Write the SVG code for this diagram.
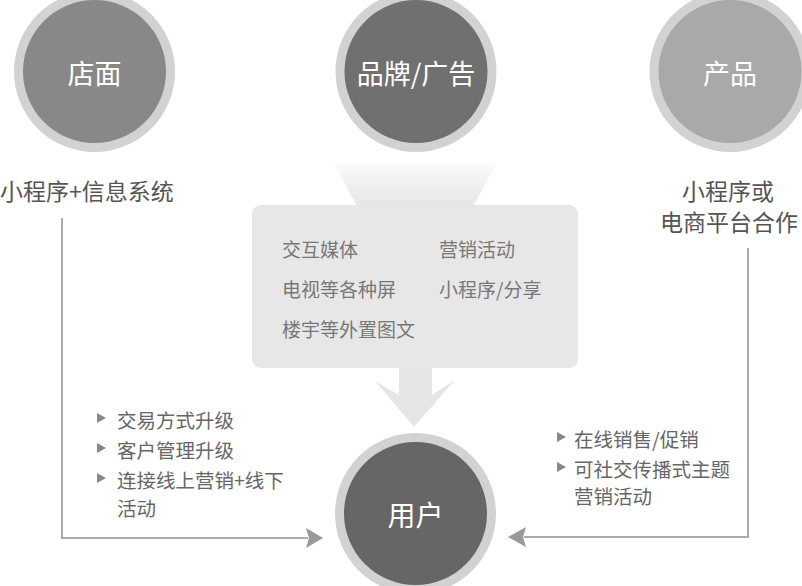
<svg xmlns="http://www.w3.org/2000/svg" width="802" height="586" viewBox="0 0 802 586">
<defs>
<style>
.ring{fill:#d2d2d2}
.ct{font-family:"Noto Sans CJK SC","Noto Sans",sans-serif;fill:#ffffff;font-size:27px;text-anchor:middle;dominant-baseline:central}
.lbl{font-family:"Noto Sans CJK SC","Noto Sans",sans-serif;fill:#555555;font-size:23px;text-anchor:middle;dominant-baseline:central}
.bx{font-family:"Noto Sans CJK SC","Noto Sans",sans-serif;fill:#777777;font-size:19px;dominant-baseline:central}
.bl{font-family:"Noto Sans CJK SC","Noto Sans",sans-serif;fill:#666666;font-size:19.5px;dominant-baseline:central}
.tri{fill:#888888}
.conn{fill:none;stroke:#aaaaaa;stroke-width:2}
.head{fill:#999999}
</style>
<linearGradient id="fun" x1="0" y1="0" x2="0" y2="1">
<stop offset="0" stop-color="#fbfbfb"/>
<stop offset="1" stop-color="#e6e6e6"/>
</linearGradient>
</defs>
<rect width="802" height="586" fill="#ffffff"/>

<g id="funnel">
<polygon points="334,163 497,163 473,206 357,206" fill="url(#fun)"/>
<rect x="252" y="205" width="326" height="163" rx="9" fill="#e7e7e7"/>
<polygon points="399,367 432,367 432,395 455,380 414,427 375,381 399,395" fill="#e6e6e6"/>
<text class="bx" x="282" y="248">交互媒体</text>
<text class="bx" x="439" y="248">营销活动</text>
<text class="bx" x="282" y="288">电视等各种屏</text>
<text class="bx" x="439" y="288">小程序/分享</text>
<text class="bx" x="282" y="328">楼宇等外置图文</text>
</g>

<g id="node-dianmian">
<circle class="ring" cx="94.5" cy="71.5" r="80.5"/>
<circle cx="94.5" cy="71.5" r="71.5" fill="#888888"/>
<text class="ct" x="94.5" y="72">店面</text>
<text class="lbl" x="87" y="190">小程序+信息系统</text>
</g>

<g id="node-pinpai">
<circle class="ring" cx="416" cy="71.5" r="80.5"/>
<circle cx="416" cy="71.5" r="71.5" fill="#707070"/>
<text class="ct" x="416" y="72">品牌/广告</text>
</g>

<g id="node-chanpin">
<circle class="ring" cx="730" cy="71.5" r="80.5"/>
<circle cx="730" cy="71.5" r="71.5" fill="#a9a9a9"/>
<text class="ct" x="730" y="72">产品</text>
<text class="lbl" x="728" y="190">小程序或</text>
<text class="lbl" x="729" y="221">电商平台合作</text>
</g>

<g id="node-yonghu">
<circle class="ring" cx="415.5" cy="513.5" r="80.5"/>
<circle cx="415.5" cy="513.5" r="71.5" fill="#666666"/>
<text class="ct" x="415.5" y="514" style="font-size:28px">用户</text>
</g>

<g id="connectors">
<polyline class="conn" points="62,218 62,538 308,538"/>
<polygon class="head" points="306,528 323,538 306,548 309,538"/>
<polyline class="conn" points="748,248 748,537 524,537"/>
<polygon class="head" points="526,527 508,537 526,547 523,537"/>
</g>

<g id="notes-left">
<polygon class="tri" points="97,413 106,418 97,423"/>
<text class="bl" x="117" y="419">交易方式升级</text>
<polygon class="tri" points="97,443 106,448 97,453"/>
<text class="bl" x="117" y="449">客户管理升级</text>
<polygon class="tri" points="97,473 106,478 97,483"/>
<text class="bl" x="117" y="479">连接线上营销+线下</text>
<text class="bl" x="117" y="507">活动</text>
</g>

<g id="notes-right">
<polygon class="tri" points="557,432 566,437 557,442"/>
<text class="bl" x="574" y="438">在线销售/促销</text>
<polygon class="tri" points="557,462 566,467 557,472"/>
<text class="bl" x="574" y="468">可社交传播式主题</text>
<text class="bl" x="574" y="495">营销活动</text>
</g>
</svg>
